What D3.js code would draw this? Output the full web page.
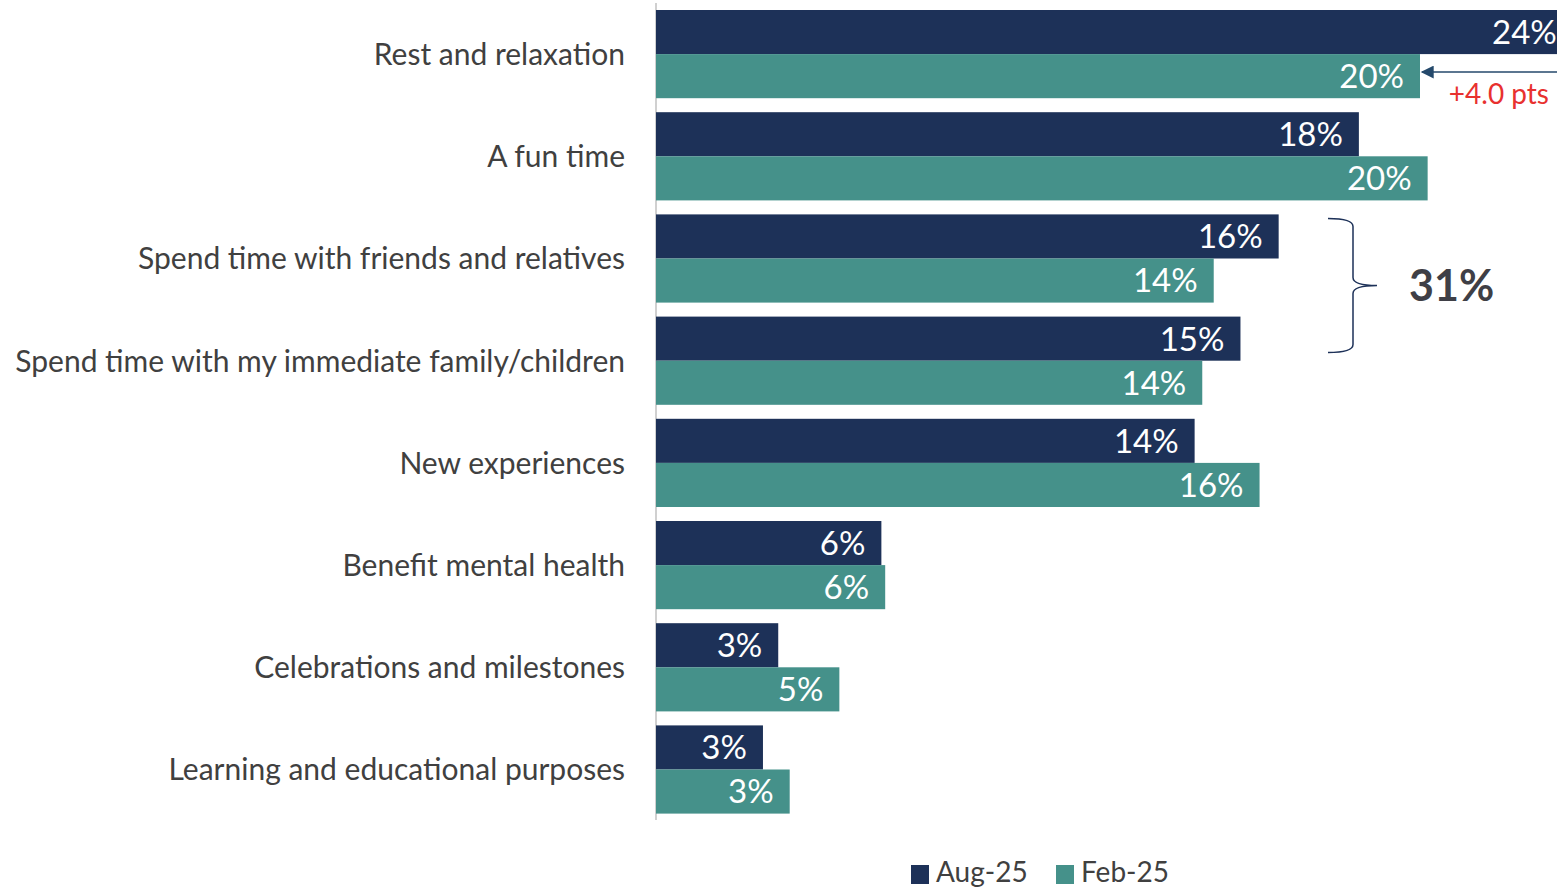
<!DOCTYPE html>
<html><head><meta charset="utf-8">
<script src="https://cdn.jsdelivr.net/npm/d3@7"></script>
<style>html,body{margin:0;padding:0;background:#fff;overflow:hidden}svg{display:block}</style>
</head><body><svg id="c" width="1557" height="888"></svg>
<script>
const categories = ["Rest and relaxation","A fun time","Spend time with friends and relatives","Spend time with my immediate family/children","New experiences","Benefit mental health","Celebrations and milestones","Learning and educational purposes"];
const seriesNames = ["Aug-25","Feb-25"];
const aug25 = [24.0, 18.4, 16.3, 15.3, 14.1, 5.9, 3.2, 2.8];
const feb25 = [20.0, 20.2, 14.6, 14.3, 15.8, 6.0, 4.8, 3.5];
const aug25Labels = ["24%","18%","16%","15%","14%","6%","3%","3%"];
const feb25Labels = ["20%","20%","14%","14%","16%","6%","5%","3%"];
const colors = ["#1d3158","#45918a"];
const diffLabel = "+4.0 pts";
const groupLabel = "31%";

const svg = d3.select("#c");
const font = "Lato, 'Open Sans', sans-serif";
const x0 = 656;
const x = d3.scaleLinear().domain([0, 20]).range([x0, 1420]);
const y = d3.scaleBand().domain(categories).range([10, 813.6]).paddingInner(0.137).paddingOuter(0);
const sub = d3.scaleBand().domain(seriesNames).range([0, y.bandwidth()]);

const data = categories.map((c,i)=>({c, vals:[{s:"Aug-25",v:aug25[i],l:aug25Labels[i]},{s:"Feb-25",v:feb25[i],l:feb25Labels[i]}]}));

// axis
const yAxis = d3.axisLeft(y).tickSize(0).tickPadding(31);
const ax = svg.append("g").attr("transform",`translate(${x0},0)`).call(yAxis);
ax.select(".domain").attr("stroke","#d0d0d0").attr("stroke-width",2).attr("d","M0,3V820");
ax.selectAll(".tick text").attr("fill","#404040").style("font-family",font).style("font-size","30px").attr("dy","0.36em");

const g = svg.selectAll("g.grp").data(data).join("g").attr("class","grp").attr("transform", d=>`translate(0,${y(d.c)})`);
g.selectAll("rect").data(d=>d.vals).join("rect")
  .attr("x", x0).attr("y", d=>sub(d.s)).attr("height", sub.bandwidth())
  .attr("width", d=>x(d.v)-x0).attr("fill", (d,i)=>colors[i]);
g.selectAll("text.lbl").data(d=>d.vals).join("text").attr("class","lbl")
  .attr("x", d=>x(d.v)-16).attr("y", d=>sub(d.s)+sub.bandwidth()/2)
  .attr("dy","0.36em").attr("text-anchor","end").attr("fill","#fff")
  .style("font-family",font).style("font-size","33px").text(d=>d.l);

// annotation arrow
const ay = y(categories[0]) + sub("Feb-25") + 18;
const defs = svg.append("defs");
defs.append("marker").attr("id","ah").attr("viewBox","0 0 10 10").attr("refX",1).attr("refY",5)
  .attr("markerUnits","userSpaceOnUse").attr("markerWidth",14).attr("markerHeight",13).attr("orient","auto")
  .append("path").attr("d","M0,5L10,0L10,10Z").attr("fill","#24496b");
svg.append("line").attr("x1",1557).attr("x2",x(feb25[0])+2).attr("y1",ay).attr("y2",ay)
  .attr("stroke","#24496b").attr("stroke-width",1.5).attr("marker-end","url(#ah)");
// orient marker to point left
svg.select("#ah").attr("orient","0");
svg.select("#ah path").attr("d","M0,5L10,0L10,10Z");
svg.append("text").attr("x",1549).attr("y",y(categories[0])+sub("Feb-25")+50).attr("text-anchor","end")
  .attr("fill","#e8312f").style("font-family",font).style("font-size","28px").text(diffLabel);

// bracket
const bx = 1328, bw = 25;
const bTop = y(categories[2]) + 4, bBot = y(categories[3]) + 36;
const bMid = (bTop+bBot)/2;
svg.append("path").attr("fill","none").attr("stroke","#1d3158").attr("stroke-width",1.5)
  .attr("d",`M${bx},${bTop} Q${bx+bw},${bTop} ${bx+bw},${bTop+8} L${bx+bw},${bMid-8} Q${bx+bw},${bMid} ${bx+bw+24},${bMid} Q${bx+bw},${bMid} ${bx+bw},${bMid+8} L${bx+bw},${bBot-8} Q${bx+bw},${bBot} ${bx},${bBot}`);
svg.append("text").attr("x",1409).attr("y",bMid).attr("dy","0.36em").attr("fill","#3f3f46")
  .style("font-family",font).style("font-size","43px").style("font-weight","bold").text(groupLabel);

// legend
const leg = svg.append("g").selectAll("g").data(seriesNames).join("g")
  .attr("transform",(d,i)=>`translate(${[911,1056][i]},865)`);
leg.append("rect").attr("width",18).attr("height",19).attr("fill",(d,i)=>colors[i]);
leg.append("text").attr("x",25).attr("y",17).attr("fill","#404040").style("font-family",font).style("font-size","28px").text(d=>d);
</script></body></html>
